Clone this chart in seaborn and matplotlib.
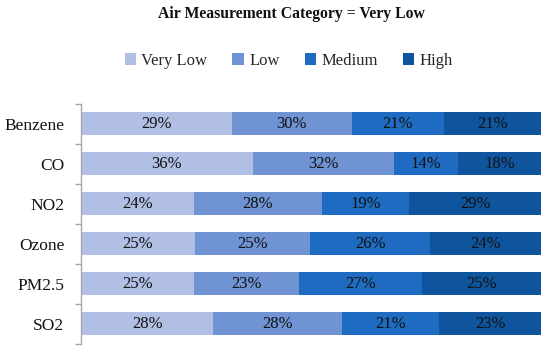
import numpy as np
import pandas as pd
import matplotlib
matplotlib.use("Agg")
import matplotlib.pyplot as plt
import seaborn as sns
from matplotlib.patches import Patch

# --- data ---
pollutants = ["Benzene", "CO", "NO2", "Ozone", "PM2.5", "SO2"]
levels = ["Very Low", "Low", "Medium", "High"]
# segment widths (share of bar, %)
very_low = [32.8, 37.3, 24.6, 24.8, 24.6, 28.8]
low = [26.0, 30.8, 27.7, 25.0, 22.8, 28.0]
medium = [20.0, 13.9, 19.0, 26.1, 26.8, 21.0]
high = [21.2, 18.0, 28.7, 24.1, 25.8, 22.2]
# printed labels
lbl_very_low = ["29%", "36%", "24%", "25%", "25%", "28%"]
lbl_low = ["30%", "32%", "28%", "25%", "23%", "28%"]
lbl_medium = ["21%", "14%", "19%", "26%", "27%", "21%"]
lbl_high = ["21%", "18%", "29%", "24%", "25%", "23%"]

colors = ["#B0BFE3", "#7093D3", "#1F6BC2", "#0F559E"]

df = pd.DataFrame({"Pollutant": pollutants, "Very Low": very_low, "Low": low,
                   "Medium": medium, "High": high})
cum = df[levels].cumsum(axis=1)
cum["Pollutant"] = df["Pollutant"]

sns.set_style("white")
plt.rcParams["font.family"] = ["Liberation Serif", "DejaVu Serif"]

fig = plt.figure(figsize=(5.5, 3.53), dpi=100)
ax = fig.add_axes([0.147, 0.026, 0.837, 0.68])

# stacked bars: draw cumulative totals from the back to the front
for lev, col in zip(reversed(levels), reversed(colors)):
    sns.barplot(data=cum, x=lev, y="Pollutant", orient="h", color=col,
                width=0.58, ax=ax, saturation=1, edgecolor="none")

# labels in the middle of each segment
labels = {"Very Low": lbl_very_low, "Low": lbl_low, "Medium": lbl_medium, "High": lbl_high}
for i, p in enumerate(pollutants):
    left = 0
    for lev in levels:
        w = df.loc[i, lev]
        ax.text(left + w / 2, i, labels[lev][i], ha="center", va="center",
                fontsize=12, color="#111111")
        left += w

ax.set_xlim(0, 100)
ax.set_ylim(5.5, -0.5)
ax.set_xlabel("")
ax.set_ylabel("")
ax.set_xticks([])
for s in ["top", "right", "bottom"]:
    ax.spines[s].set_visible(False)
ax.spines["left"].set_color("#A6A6A6")
ax.spines["left"].set_linewidth(1)
ax.tick_params(axis="y", which="major", left=False, length=0, labelsize=12.5,
               pad=12, labelcolor="#111111")
ax.set_yticks(np.arange(-0.5, 6, 1), minor=True)
ax.tick_params(axis="y", which="minor", left=True, length=4, color="#A6A6A6",
               width=1)

fig.text(0.53, 0.96, "Air Measurement Category = Very Low", ha="center",
         va="center", fontsize=11.3, fontweight="bold", color="#111111")

handles = [Patch(facecolor=c, edgecolor="none") for c in colors]
fig.legend(handles, levels, loc="center", bbox_to_anchor=(0.525, 0.828), ncol=4,
           frameon=False, fontsize=12, handlelength=0.7, handleheight=0.7,
           handletextpad=0.3, columnspacing=1.5)

fig.savefig("out.png", dpi=100)
